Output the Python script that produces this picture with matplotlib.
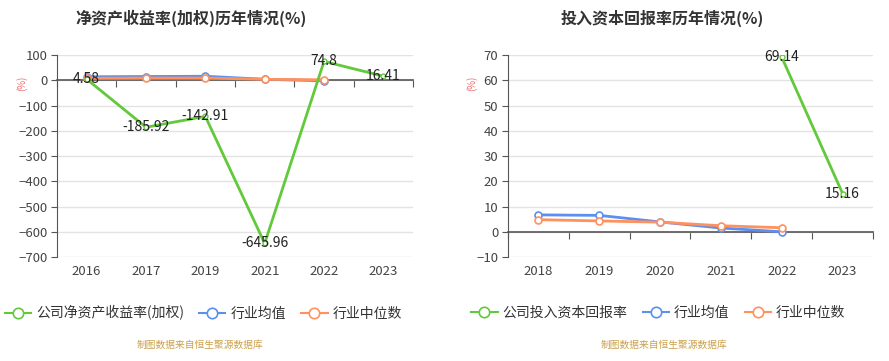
import matplotlib
matplotlib.use("Agg")
import matplotlib.pyplot as plt
from matplotlib.lines import Line2D

plt.rcParams['font.family'] = ['Noto Sans CJK SC', 'DejaVu Sans']

# left chart data
roe_years = ['2016', '2017', '2019', '2021', '2022', '2023']
roe_company = [4.58, -185.92, -142.91, -645.96, 74.8, 16.41]
roe_mean = [14, 15, 16, 4, -2]
roe_median = [8, 9, 9, 4, 2]

# right chart data
roic_years = ['2018', '2019', '2020', '2021', '2022', '2023']
roic_company = [None, None, None, None, 69.14, 15.16]
roic_mean = [6.7, 6.5, 3.9, 1.5, 0.0]
roic_median = [4.8, 4.3, 3.8, 2.4, 1.6]

GREEN = '#62C93A'
BLUE = '#5B8FF0'
ORANGE = '#FF915E'
GRID = '#E3E3E3'
AXIS = '#555555'
TXT = '#444444'

fig = plt.figure(figsize=(8.89, 3.61), dpi=100)


def draw(ax, years, company, mean, median, yticks, title, title_x, legend_name, legend_x, footer_x):
    n = len(years)
    xs = list(range(n))
    ax.set_xlim(-0.5, n - 0.5)
    ax.set_ylim(yticks[0], yticks[-1])
    ax.set_yticks(yticks)
    ax.yaxis.grid(True, color=GRID, lw=1)
    ax.set_axisbelow(True)
    for s in ['top', 'right']:
        ax.spines[s].set_visible(False)
    ax.spines['left'].set_color(AXIS)
    ax.spines['bottom'].set_position(('data', 0))
    ax.spines['bottom'].set_color(AXIS)
    ax.spines['bottom'].set_linewidth(1.2)
    ax.set_xticks([i - 0.5 for i in range(n + 1)])
    ax.tick_params(axis='x', labelbottom=False, length=5, color=AXIS, direction='out')
    ax.tick_params(axis='y', labelsize=9.5, length=4, color=AXIS, pad=3)
    for lab in ax.get_yticklabels():
        lab.set_color(TXT)

    # category labels sit at the bottom, while the axis line sits on zero
    sec = ax.secondary_xaxis('bottom')
    sec.set_xticks(xs)
    sec.set_xticklabels(years)
    sec.tick_params(length=0, labelsize=9.5, labelcolor=TXT, pad=6)
    sec.spines['bottom'].set_visible(False)

    ax.plot(xs[:len(mean)], mean, color=BLUE, lw=2, marker='o', ms=5,
            mfc='white', mec=BLUE, mew=1.2, zorder=3)
    ax.plot(xs[:len(median)], median, color=ORANGE, lw=2, marker='o', ms=5,
            mfc='white', mec=ORANGE, mew=1.2, zorder=3)
    cx = [x for x, v in zip(xs, company) if v is not None]
    cy = [v for v in company if v is not None]
    ax.plot(cx, cy, color=GREEN, lw=2, marker='o', ms=3.5,
            mfc='white', mec=GREEN, mew=1, zorder=4)
    for x, v in zip(cx, cy):
        ax.text(x, v, f'{v:g}', ha='center', va='center', fontsize=10,
                color='#222222', zorder=5)

    ax.text(-0.1, 0.86, '(%)', transform=ax.transAxes, rotation=90,
            color='#F26B6B', fontsize=7, ha='center', va='center')

    fig.text(title_x, 0.95, title, ha='center', va='center', fontsize=11.5,
             fontweight='bold', color='#333333')

    handles = [Line2D([], [], color=c, lw=1.5, marker='o', ms=7.5, mfc='white',
                      mec=c, mew=1.2) for c in (GREEN, BLUE, ORANGE)]
    fig.legend(handles, [legend_name, '行业均值', '行业中位数'], loc='center left',
               bbox_to_anchor=(legend_x, 0.133), ncol=3, frameon=False,
               fontsize=10, handlelength=1.9, handletextpad=0.35,
               columnspacing=1.1, borderaxespad=0, borderpad=0.2,
               labelcolor='#333333')
    fig.text(footer_x, 0.045, '制图数据来自恒生聚源数据库', ha='center', va='center',
             fontsize=7, color='#C9A04B')


ax1 = fig.add_axes([0.0641, 0.288, 0.4005, 0.5595])
draw(ax1, roe_years, roe_company, roe_mean, roe_median,
     list(range(-700, 101, 100)), '净资产收益率(加权)历年情况(%)', 0.215,
     '公司净资产收益率(加权)', 0.002, 0.225)

ax2 = fig.add_axes([0.5714, 0.288, 0.4106, 0.5595])
draw(ax2, roic_years, roic_company, roic_mean, roic_median,
     list(range(-10, 71, 10)), '投入资本回报率历年情况(%)', 0.745,
     '公司投入资本回报率', 0.527, 0.747)

fig.savefig('out.png', dpi=100)
